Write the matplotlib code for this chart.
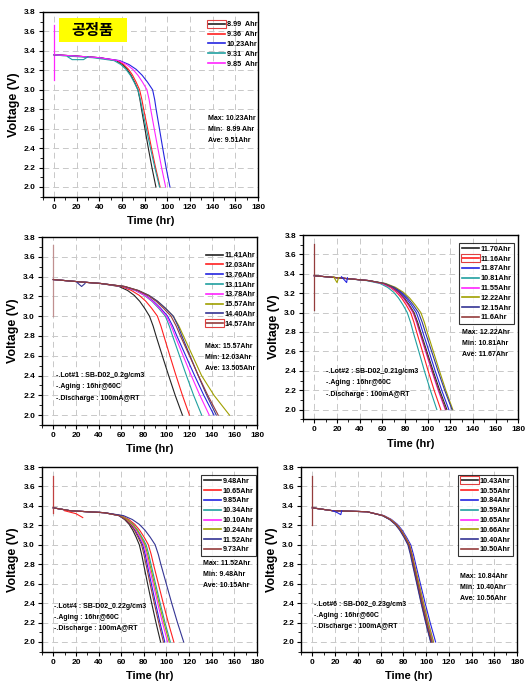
import matplotlib
matplotlib.use("Agg")
import matplotlib.pyplot as plt
from matplotlib.patches import Rectangle
from matplotlib.ticker import MultipleLocator

FONT = ["Liberation Sans Narrow", "Liberation Sans", "DejaVu Sans"]
plt.rcParams["font.family"] = FONT
plt.rcParams["font.weight"] = "bold"

W, H = 532, 690

BLACK = "#222222"
RED = "#ff2020"
BLUE = "#2424e0"
TEAL = "#20a0a0"
MAGENTA = "#ff24ff"
OLIVE = "#a0a000"
NAVY = "#343494"
BROWN = "#943c3c"

# ---- panel 1 : 공정품 ----
P1_LEVELS = [3.36, 3.35, 3.33, 3.30, 3.26, 3.21, 3.15, 3.08, 3.00, 2.90, 2.80, 2.60, 2.40, 2.20, 2.00]
P1_LABELS = ["8.99  Ahr", "9.36  Ahr", "10.23Ahr", "9.31  Ahr", "9.85  Ahr"]
P1_TIMES = [
    [0, 15, 40, 55, 60.3, 64.5, 67.9, 71.0, 74.0, 75.8, 77.2, 80.2, 83.2, 86.4, 89.9],
    [0, 15, 40, 56, 61.5, 65.8, 69.3, 72.4, 75.5, 77.5, 79.1, 82.6, 86.0, 89.6, 93.6],
    [0, 15, 40, 58, 66.1, 72.5, 77.7, 82.4, 87.0, 88.8, 90.1, 93.0, 95.9, 98.9, 102.3],
    [0, 8, 34, 53, 58.9, 63.5, 67.3, 70.6, 74.0, 76.1, 77.8, 81.4, 85.1, 88.9, 93.1],
    [0, 15, 40, 57, 64.0, 69.5, 74.0, 78.0, 82.0, 83.9, 85.3, 88.4, 91.6, 94.9, 98.5],
]
P1_SPIKE = [3.10, 3.67]
P1_DIP_T = [12, 16, 26, 30]
P1_DIP_V = [3.34, 3.31, 3.31, 3.34]
P1_STATS = ["Max: 10.23Ahr", "Min:  8.99 Ahr", "Ave: 9.51Ahr"]

# ---- panel 2 : Lot#1 ----
P2_LEVELS = [3.37, 3.35, 3.33, 3.30, 3.26, 3.21, 3.15, 3.08, 3.00, 2.90, 2.80, 2.60, 2.40, 2.20, 2.00]
P2_LABELS = ["11.41Ahr", "12.03Ahr", "13.76Ahr", "13.11Ahr", "13.78Ahr",
             "15.57Ahr", "14.40Ahr", "14.57Ahr"]
P2_TIMES = [
    [0, 20, 42, 58, 65.6, 71.5, 76.4, 80.7, 85.0, 88.2, 90.8, 96.3, 101.9, 107.7, 114.1],
    [0, 20, 42, 60, 69.0, 76.0, 81.8, 86.9, 92.0, 95.1, 97.7, 103.0, 108.4, 114.1, 120.3],
    [0, 20, 42, 62, 72.9, 81.5, 88.5, 94.8, 101.0, 105.5, 109.2, 117.0, 124.8, 133.0, 142.0],
    [0, 20, 42, 62, 72.4, 80.5, 87.2, 93.1, 99.0, 102.5, 105.4, 111.5, 117.6, 124.0, 131.1],
    [0, 20, 42, 62, 72.6, 81.0, 87.8, 93.9, 100.0, 104.2, 107.6, 114.7, 121.9, 129.5, 137.8],
    [0, 20, 42, 63, 75.0, 84.5, 92.2, 99.1, 106.0, 111.0, 115.0, 123.0, 131.0, 142.0, 155.7],
    [0, 20, 42, 63, 75.0, 84.5, 92.2, 99.1, 106.0, 110.2, 113.6, 120.8, 128.0, 135.6, 144.0],
    [0, 20, 42, 63, 74.5, 83.5, 90.9, 97.4, 104.0, 108.6, 112.3, 120.3, 128.2, 136.5, 145.7],
]
P2_SPIKE = [3.00, 3.72]
P2_DIP_T = [21, 25, 28]
P2_DIP_V = [3.34, 3.30, 3.33]
P2_STATS = ["Max: 15.57Ahr", "Min: 12.03Ahr", "Ave: 13.505Ahr"]
P2_LOT = ["-.Lot#1 : SB-D02_0.2g/cm3", "-.Aging : 16hr@60C", "-.Discharge : 100mA@RT"]

# ---- panel 3 : Lot#2 ----
P3_LEVELS = [3.38, 3.36, 3.33, 3.30, 3.26, 3.21, 3.15, 3.08, 3.00, 2.90, 2.80, 2.60, 2.40, 2.20, 2.00]
P3_LABELS = ["11.70Ahr", "11.16Ahr", "11.87Ahr", "10.81Ahr", "11.55Ahr",
             "12.22Ahr", "12.15Ahr", "11.6Ahr"]
P3_TIMES = [
    [0, 20, 48, 61, 68.6, 74.5, 79.4, 83.7, 88.0, 91.2, 93.8, 99.3, 104.8, 110.6, 117.0],
    [0, 20, 48, 60, 67.0, 72.5, 77.0, 81.0, 85.0, 87.9, 90.3, 95.4, 100.4, 105.7, 111.6],
    [0, 20, 48, 62, 69.8, 76.0, 81.0, 85.5, 90.0, 93.1, 95.7, 101.2, 106.6, 112.4, 118.7],
    [0, 20, 46, 58, 64.7, 70.0, 74.3, 78.2, 82.0, 84.9, 87.2, 92.2, 97.1, 102.4, 108.1],
    [0, 20, 48, 60, 67.6, 73.5, 78.4, 82.7, 87.0, 90.1, 92.7, 98.1, 103.5, 109.2, 115.5],
    [0, 20, 48, 63, 71.7, 78.5, 84.1, 89.0, 94.0, 97.1, 99.6, 105.0, 110.4, 116.0, 122.2],
    [0, 20, 48, 62, 70.4, 77.0, 82.4, 87.2, 92.0, 95.2, 97.9, 103.5, 109.1, 115.0, 121.5],
    [0, 20, 48, 61, 68.4, 74.3, 79.0, 83.3, 87.5, 90.6, 93.2, 98.6, 104.0, 109.7, 116.0],
]
P3_SPIKE = [3.03, 3.71]
P3_DIP_T = [17, 20, 21.5]
P3_DIP_V = [3.37, 3.31, 3.36]
P3_DIP2_T = [24, 28.5, 29.2]
P3_DIP2_V = [3.37, 3.31, 3.36]
P3_STATS = ["Max: 12.22Ahr", "Min: 10.81Ahr", "Ave: 11.67Ahr"]
P3_LOT = ["-.Lot#2 : SB-D02_0.21g/cm3", "-.Aging : 16hr@60C", "-.Discharge : 100mA@RT"]

# ---- panel 4 : Lot#4 ----
P4_LEVELS = [3.38, 3.35, 3.33, 3.30, 3.26, 3.21, 3.15, 3.08, 3.00, 2.90, 2.80, 2.60, 2.40, 2.20, 2.00]
P4_LABELS = ["9.48Ahr", "10.65Ahr", "9.85Ahr", "10.34Ahr", "10.10Ahr",
             "10.24Ahr", "11.52Ahr", "9.73Ahr"]
P4_TIMES = [
    [0, 15, 45, 58, 63.0, 67.0, 70.2, 73.1, 76.0, 78.1, 79.8, 83.3, 86.9, 90.7, 94.8],
    [0, 15, 45, 60, 66.7, 72.0, 76.3, 80.2, 84.0, 86.5, 88.5, 92.8, 97.1, 101.6, 106.5],
    [0, 15, 45, 58, 63.9, 68.5, 72.3, 75.6, 79.0, 81.2, 82.9, 86.6, 90.3, 94.2, 98.5],
    [0, 15, 45, 59, 65.4, 70.5, 74.6, 78.3, 82.0, 84.4, 86.3, 90.3, 94.4, 98.7, 103.4],
    [0, 15, 45, 59, 64.9, 69.5, 73.3, 76.6, 80.0, 82.3, 84.2, 88.2, 92.2, 96.4, 101.0],
    [0, 15, 45, 59, 65.2, 70.0, 74.0, 77.5, 81.0, 83.4, 85.3, 89.3, 93.4, 97.7, 102.4],
    [0, 15, 45, 62, 69.8, 76.0, 81.0, 85.5, 90.0, 92.8, 95.0, 99.8, 104.6, 109.7, 115.2],
    [0, 15, 45, 58, 63.6, 68.0, 71.6, 74.8, 78.0, 80.1, 81.9, 85.5, 89.2, 93.1, 97.3],
]
P4_SPIKE = [3.33, 3.71]
P4_DIP_T = [10, 20, 26]
P4_DIP_V = [3.35, 3.32, 3.28]
P4_STATS = ["Max: 11.52Ahr", "Min: 9.48Ahr", "Ave: 10.15Ahr"]
P4_LOT = ["-.Lot#4 : SB-D02_0.22g/cm3", "-.Aging : 16hr@60C", "-.Discharge : 100mA@RT"]

# ---- panel 5 : Lot#6 ----
P5_LEVELS = [3.38, 3.35, 3.34, 3.30, 3.26, 3.21, 3.15, 3.08, 3.00, 2.90, 2.80, 2.60, 2.40, 2.20, 2.00]
P5_LABELS = ["10.43Ahr", "10.55Ahr", "10.84Ahr", "10.59Ahr", "10.65Ahr",
             "10.66Ahr", "10.40Ahr", "10.50Ahr"]
P5_TIMES = [
    [0, 18, 48, 62.0, 68.3, 73.3, 77.3, 80.9, 84.5, 86.7, 88.5, 92.2, 96.0, 100.0, 104.3],
    [0, 18, 48, 62.0, 68.4, 73.5, 77.6, 81.3, 85.0, 87.2, 89.0, 92.9, 96.7, 100.8, 105.5],
    [0, 18, 48, 63.0, 69.6, 74.8, 79.0, 82.7, 86.5, 88.9, 90.9, 95.0, 99.2, 103.6, 108.4],
    [0, 18, 48, 62.0, 68.4, 73.5, 77.6, 81.3, 85.0, 87.3, 89.2, 93.1, 97.0, 101.2, 105.9],
    [0, 18, 48, 62.5, 68.9, 74.0, 78.1, 81.8, 85.5, 87.8, 89.7, 93.7, 97.7, 101.9, 106.5],
    [0, 18, 48, 62.5, 68.9, 74.0, 78.1, 81.8, 85.5, 87.8, 89.7, 93.8, 97.8, 102.0, 106.6],
    [0, 18, 48, 61.5, 67.8, 72.8, 76.8, 80.4, 84.0, 86.2, 88.0, 91.8, 95.6, 99.6, 104.0],
    [0, 18, 48, 62.0, 68.4, 73.5, 77.6, 81.3, 85.0, 87.2, 89.0, 92.8, 96.6, 100.6, 105.0],
]
P5_SPIKE = [3.20, 3.71]
P5_DIP_T = [18, 22, 25, 25.8]
P5_DIP_V = [3.35, 3.33, 3.31, 3.35]
P5_STATS = ["Max: 10.84Ahr", "Min: 10.40Ahr", "Ave: 10.56Ahr"]
P5_LOT = ["-.Lot#6 : SB-D02_0.23g/cm3", "-.Aging : 16hr@60C", "-.Discharge : 100mA@RT"]

COLORS5 = [BLACK, RED, BLUE, TEAL, MAGENTA]
COLORS8 = [BLACK, RED, BLUE, TEAL, MAGENTA, OLIVE, NAVY, BROWN]


def px_rect(left, top, right, bottom):
    return [left / W, 1 - bottom / H, (right - left) / W, (bottom - top) / H]


def setup_axes(ax):
    ax.set_xlim(-10, 180)
    ax.set_ylim(1.9, 3.8)
    ax.xaxis.set_major_locator(MultipleLocator(20))
    ax.xaxis.set_minor_locator(MultipleLocator(10))
    ax.set_yticks([2.0 + 0.2 * i for i in range(10)])
    ax.set_yticklabels([f"{2.0 + 0.2 * i:.1f}" for i in range(10)])
    ax.yaxis.set_minor_locator(MultipleLocator(0.1))
    ax.tick_params(which="major", direction="out", length=3, width=0.8,
                   labelsize=6, pad=2)
    ax.tick_params(which="minor", direction="out", length=2, width=0.6)
    ax.grid(True, which="major", color="#c8c8c8", linestyle=(0, (6, 4)),
            linewidth=0.7)
    ax.set_axisbelow(True)
    for s in ax.spines.values():
        s.set_linewidth(1.0)
        s.set_color("black")
    ax.set_xlabel("Time (hr)", fontsize=8, fontweight="bold", labelpad=4)
    ax.set_ylabel("Voltage (V)", fontsize=9, fontweight="bold", labelpad=3)


def draw_panel(ax, levels, times, labels, colors, spike, spike_color,
               stats, stats_xy, lot=None, lot_xy=None,
               leg_anchor=(0.75, 0.96), frame=False):
    setup_axes(ax)
    ax.plot([0, 0], spike, color=spike_color, lw=0.9, zorder=3)
    for t, lab, c in zip(times, labels, colors):
        ax.plot(t, levels, color=c, lw=0.8, label=lab, zorder=4)
    leg = ax.legend(loc="upper left", bbox_to_anchor=leg_anchor,
                    fontsize=5.2, frameon=frame, handlelength=2.3,
                    handletextpad=0.25, labelspacing=0.38, borderaxespad=0,
                    borderpad=0.4, fancybox=False)
    if frame:
        leg.get_frame().set_edgecolor("black")
        leg.get_frame().set_linewidth(0.8)
    for line in leg.get_lines():
        line.set_linewidth(1.2)
    x, y = stats_xy
    for i, s in enumerate(stats):
        ax.text(x, y - 0.112 * i, s, fontsize=5, fontweight="bold",
                ha="left", va="center")
    if lot:
        x, y = lot_xy
        for i, s in enumerate(lot):
            ax.text(x, y - 0.115 * i, s, fontsize=5, fontweight="bold",
                    ha="left", va="center")
    return leg


fig = plt.figure(figsize=(W / 100, H / 100), dpi=100)
fig.patch.set_facecolor("white")

ax1 = fig.add_axes(px_rect(42.7, 12, 258, 196.7))
ax2 = fig.add_axes(px_rect(42, 237, 257, 425))
ax3 = fig.add_axes(px_rect(303, 235, 518.3, 419.3))
ax4 = fig.add_axes(px_rect(42, 467, 257, 651.7))
ax5 = fig.add_axes(px_rect(301, 467, 517, 651.7))

leg1 = draw_panel(ax1, P1_LEVELS, P1_TIMES, P1_LABELS, COLORS5, P1_SPIKE, MAGENTA,
                  P1_STATS, (136, 2.70), leg_anchor=(0.755, 0.965))
leg2 = draw_panel(ax2, P2_LEVELS, P2_TIMES, P2_LABELS, COLORS8, P2_SPIKE, "#c09090",
                  P2_STATS, (134, 2.69), P2_LOT, (2.5, 2.40), leg_anchor=(0.75, 0.935))
leg3 = draw_panel(ax3, P3_LEVELS, P3_TIMES, P3_LABELS, COLORS8, P3_SPIKE, BROWN,
                  P3_STATS, (130, 2.79), P3_LOT, (10, 2.39), leg_anchor=(0.725, 0.957),
                  frame=True)
leg4 = draw_panel(ax4, P4_LEVELS, P4_TIMES, P4_LABELS, COLORS8, P4_SPIKE, "#c04040",
                  P4_STATS, (132, 2.81), P4_LOT, (0.6, 2.37), leg_anchor=(0.74, 0.957),
                  frame=True)
leg5 = draw_panel(ax5, P5_LEVELS, P5_TIMES, P5_LABELS, COLORS8, P5_SPIKE, BROWN,
                  P5_STATS, (130, 2.67), P5_LOT, (1.5, 2.39), leg_anchor=(0.727, 0.957),
                  frame=True)

# small glitches on the plateau
ax1.plot(P1_DIP_T, P1_DIP_V, color=TEAL, lw=0.8, zorder=4)
ax2.plot(P2_DIP_T, P2_DIP_V, color=NAVY, lw=0.8, zorder=4)
ax3.plot(P3_DIP_T, P3_DIP_V, color=OLIVE, lw=0.8, zorder=4)
ax3.plot(P3_DIP2_T, P3_DIP2_V, color=BLUE, lw=0.8, zorder=4)
ax4.plot(P4_DIP_T, P4_DIP_V, color=RED, lw=0.8, zorder=4)
ax5.plot(P5_DIP_T, P5_DIP_V, color=BLUE, lw=0.8, zorder=4)

# yellow label box on the first panel
ax1.add_patch(Rectangle((0.075, 0.835), 0.315, 0.135, transform=ax1.transAxes,
                        facecolor="#ffff00", edgecolor="none", zorder=5))
ax1.text(0.232, 0.902, "공정품", transform=ax1.transAxes, fontsize=11,
         fontweight="bold", ha="center", va="center", zorder=6,
         family=["Noto Sans CJK KR", "DejaVu Sans"])

# red selection boxes around one legend sample per panel
fig.canvas.draw()
renderer = fig.canvas.get_renderer()
for leg, idx in [(leg1, 0), (leg2, 7), (leg3, 1), (leg5, 0)]:
    bb = leg.get_lines()[idx].get_window_extent(renderer)
    fig.patches.append(Rectangle((bb.x0 - 1, bb.y0 - 4), bb.width + 2, 8,
                                 transform=None, facecolor="none",
                                 edgecolor="#e04040", linewidth=0.8,
                                 zorder=10, figure=fig))

fig.savefig("out.png", dpi=100, facecolor="white")
